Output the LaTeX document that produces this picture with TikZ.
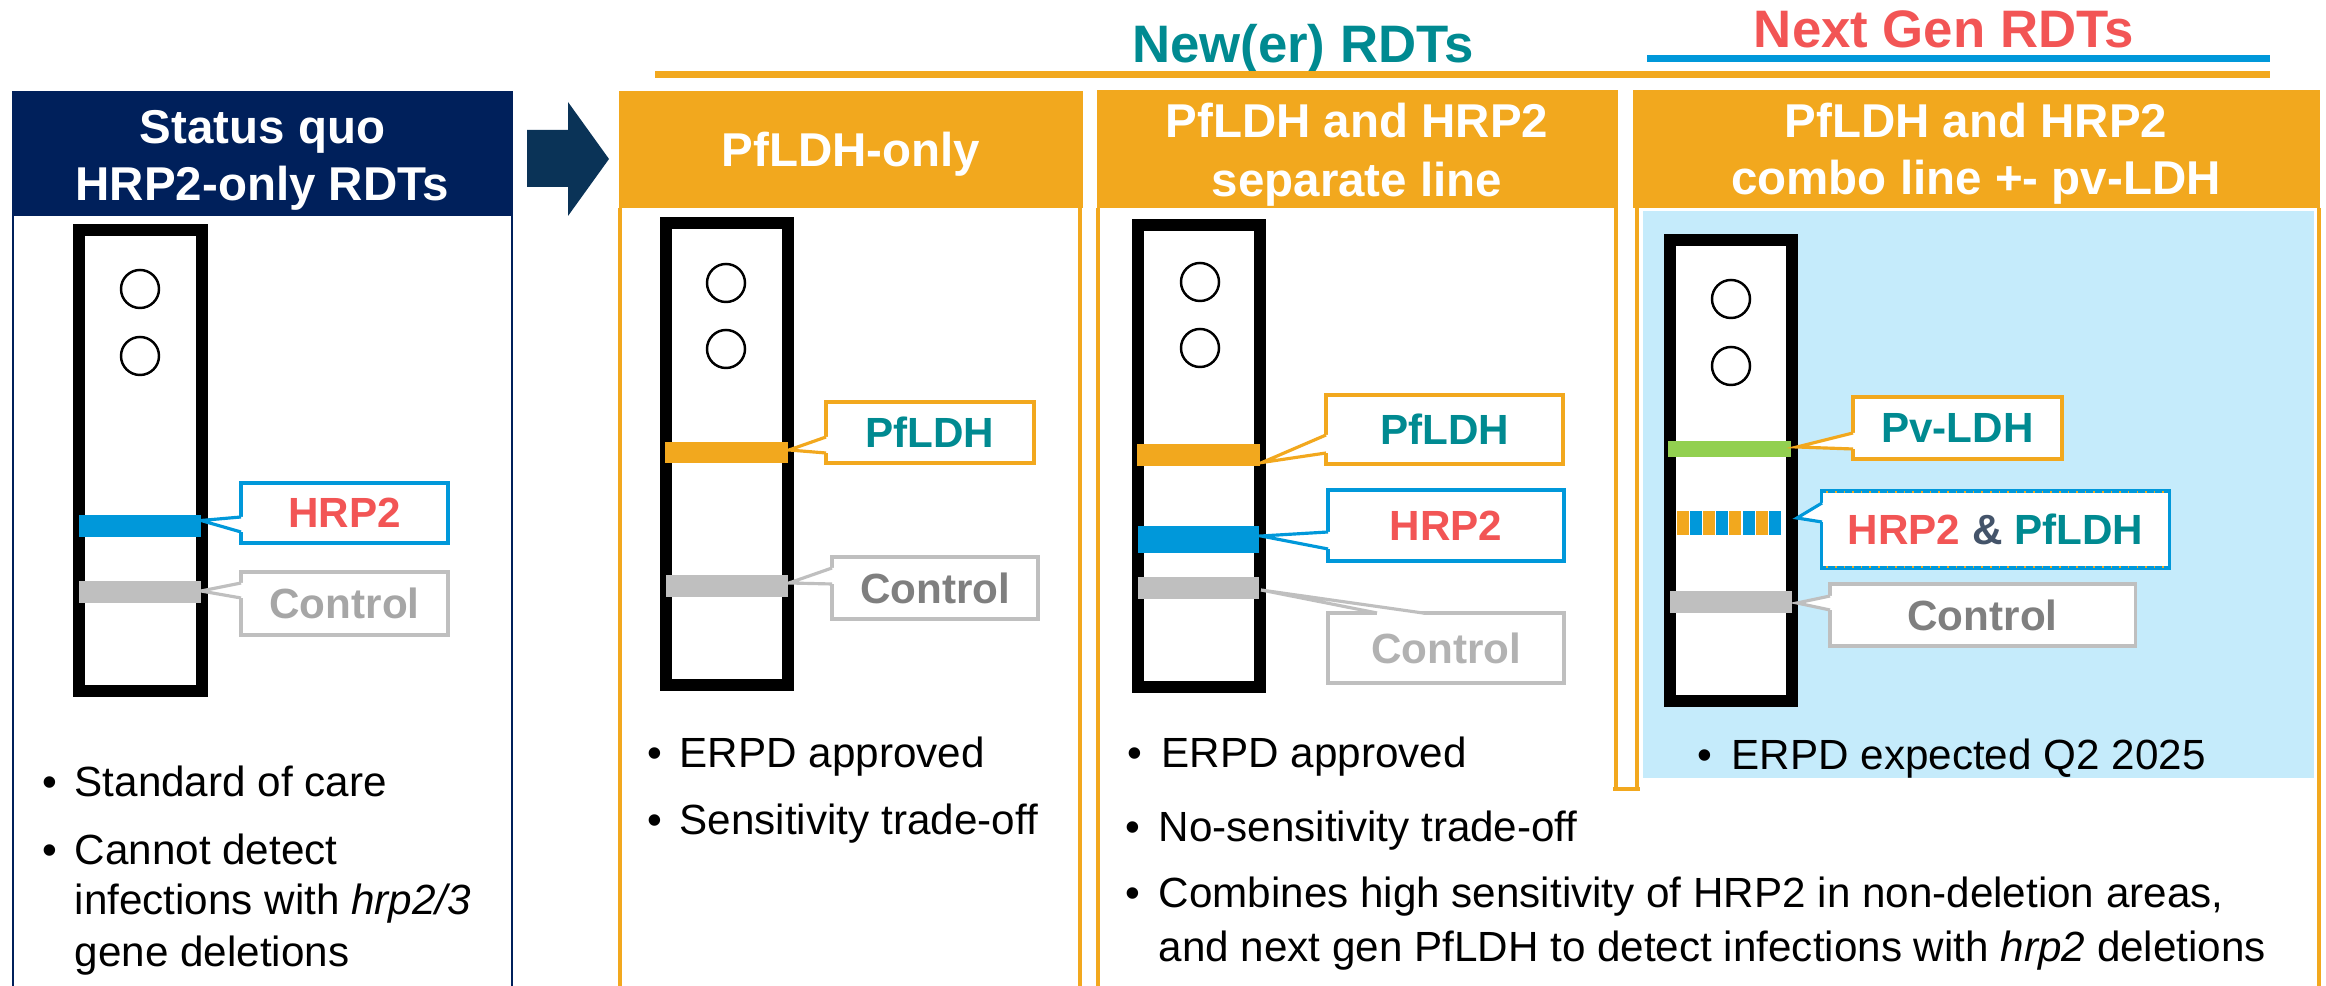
\documentclass[tikz,border=0pt]{standalone}
\usepackage{fontspec}
\setmainfont{Liberation Sans}
\usetikzlibrary{calc}
\definecolor{navyc}{RGB}{0,32,91}
\definecolor{arrowc}{RGB}{10,51,87}
\definecolor{orng}{RGB}{242,168,30}
\definecolor{tealc}{RGB}{0,138,145}
\definecolor{redc}{RGB}{242,85,85}
\definecolor{bluec}{RGB}{0,152,218}
\definecolor{grayb}{RGB}{191,191,191}
\definecolor{panelc}{RGB}{197,235,251}
\definecolor{ampc}{RGB}{68,84,106}
\definecolor{greenc}{RGB}{146,208,80}
\definecolor{grayA}{RGB}{166,166,166}
\definecolor{grayB}{RGB}{127,127,127}
\definecolor{grayC}{RGB}{178,178,178}
\newcommand{\wedgeto}[5]{% #1 colour, #2 p1, #3 tip, #4 p2, #5 inward shift
  \fill[white] ($(#2)+(#5)$) -- (#2) -- (#3) -- (#4) -- ($(#4)+(#5)$) -- cycle;
  \draw[#1, line width=0.9pt, line join=miter] (#2) -- (#3) -- (#4);
}
\begin{document}
\begin{tikzpicture}[x=0.01cm,y=-0.01cm,
  titletxt/.style={anchor=base, inner sep=0pt, font=\fontsize{15}{18}\selectfont\bfseries},
  headtxt/.style={anchor=base, inner sep=0pt, text=white, font=\fontsize{13.5}{16}\selectfont\bfseries},
  stripbox/.style={draw=black, line width=0.12cm, fill=white},
  hole/.style={draw=black, line width=0.7pt},
  callbox/.style={fill=white, line width=0.9pt, inner sep=0pt, font=\fontsize{12}{14}\selectfont\bfseries},
  bodytxt/.style={anchor=base west, inner sep=0pt, font=\fontsize{12}{14}\selectfont},
  frameline/.style={orng, line width=1pt},
]
\useasboundingbox (0,0) rectangle (2326,986);

% ---------- titles ----------
\node[titletxt, text=tealc] (newer) at (1303,63) {New(er) RDTs};
\node[titletxt, text=redc] (nextgen) at (1944,48) {Next Gen RDTs};
\draw[orng, line width=0.07cm] (655,74.5) -- (2270,74.5);
\draw[bluec, line width=0.07cm] (1647,59) -- (2270,59);

% ---------- column frames ----------
\fill[navyc] (12,91) rectangle (513,216);
\draw[navyc, line width=0.7pt] (13,216) -- (13,986) (512,216) -- (512,986);
\fill[orng] (619,91) rectangle (1083,208);
\draw[frameline] (620,208) -- (620,986) (1080,208) -- (1080,986);
\fill[orng] (1097,90) rectangle (1618,208);
\fill[orng] (1633,90) rectangle (2320,208);
\draw[frameline] (1098,208) -- (1098,986);
\draw[frameline] (1616,208) -- (1616,789) (1637,208) -- (1637,789) (1613,789) -- (1640,789);
\draw[frameline] (2319,208) -- (2319,986);
\fill[panelc] (1643,211) rectangle (2314,778);

% ---------- arrow ----------
\fill[arrowc] (527,130) -- (568,130) -- (568,102) -- (609,159) -- (568,216) -- (568,187) -- (527,187) -- cycle;

% ---------- headers ----------
\node[headtxt] (h1a) at (262.5,144) {Status quo};
\node[headtxt] (h1b) at (262.5,201) {HRP2-only RDTs};
\node[headtxt] (h2a) at (851,167) {PfLDH-only};
\node[headtxt] (h3a) at (1357,138) {PfLDH and HRP2};
\node[headtxt] (h3b) at (1357,197) {separate line};
\node[headtxt] (h4a) at (1976,138) {PfLDH and HRP2};
\node[headtxt] (h4b) at (1976,195) {combo line +- pv-LDH};

% ---------- strips ----------
\draw[stripbox] (79,230) rectangle (202,691);
\draw[stripbox] (666,223) rectangle (788,685);
\draw[stripbox] (1138,225) rectangle (1260,687);
\draw[stripbox] (1670,240) rectangle (1792,701);
\foreach \cx/\cy in {140/289,140/356,726/283,726/349,1200/282,1200/348,1731/299,1731/366}
  \draw[hole] (\cx,\cy) circle (0.19cm);

% ---------- bands ----------
\fill[bluec] (79,515) rectangle (201,537);
\fill[grayb] (79,581) rectangle (201,603);
\fill[orng] (665,442) rectangle (788,463);
\fill[grayb] (666,575) rectangle (788,597);
\fill[orng] (1137,444) rectangle (1260,466);
\fill[bluec] (1138,526) rectangle (1259,553);
\fill[grayb] (1138,577) rectangle (1259,599);
\fill[greenc] (1668,441) rectangle (1791,457);
\foreach \k in {0,...,7}{
  \pgfmathsetmacro{\sx}{1677+13.1*\k}
  \ifodd\k \def\sc{bluec}\else\def\sc{orng}\fi
  \fill[\sc] (\sx,511) rectangle ++(12,24);
}
\fill[grayb] (1670,591) rectangle (1792,613);

% ---------- callouts ----------
% column 1
\node[callbox, draw=bluec, minimum width=2.07cm, minimum height=0.60cm] (c1h) at (344.5,513) {\textcolor{redc}{HRP2}};
\coordinate (c1h1) at (241,517); \coordinate (c1ht) at (201,520.5); \coordinate (c1h2) at (241,532);
\wedgeto{bluec}{c1h1}{c1ht}{c1h2}{3,0}
\node[callbox, draw=grayb, minimum width=2.07cm, minimum height=0.63cm] (c1c) at (344.5,603.5) {\textcolor{grayA}{Control}};
\coordinate (c1c1) at (241,583); \coordinate (c1ct) at (201,591); \coordinate (c1c2) at (241,598);
\wedgeto{grayb}{c1c1}{c1ct}{c1c2}{3,0}
% column 2
\node[callbox, draw=orng, minimum width=2.08cm, minimum height=0.61cm] (c2p) at (930,432.5) {\textcolor{tealc}{PfLDH}};
\coordinate (c2p1) at (826,437); \coordinate (c2pt) at (789,450); \coordinate (c2p2) at (826,453);
\wedgeto{orng}{c2p1}{c2pt}{c2p2}{3,0}
\node[callbox, draw=grayb, minimum width=2.06cm, minimum height=0.62cm] (c2c) at (935,588) {\textcolor{grayB}{Control}};
\coordinate (c2c1) at (832,568); \coordinate (c2ct) at (789,583); \coordinate (c2c2) at (832,584);
\wedgeto{grayb}{c2c1}{c2ct}{c2c2}{3,0}
% column 3
\node[callbox, draw=orng, minimum width=2.37cm, minimum height=0.69cm] (c3p) at (1444.5,429.5) {\textcolor{tealc}{PfLDH}};
\coordinate (c3p1) at (1326,435); \coordinate (c3pt) at (1262,462.5); \coordinate (c3p2) at (1326,453);
\wedgeto{orng}{c3p1}{c3pt}{c3p2}{3,0}
\node[callbox, draw=bluec, minimum width=2.36cm, minimum height=0.71cm] (c3h) at (1446,525.5) {\textcolor{redc}{HRP2}};
\coordinate (c3h1) at (1328,532); \coordinate (c3ht) at (1261,536); \coordinate (c3h2) at (1328,549);
\wedgeto{bluec}{c3h1}{c3ht}{c3h2}{3,0}
\node[callbox, draw=grayb, minimum width=2.36cm, minimum height=0.70cm] (c3c) at (1446,648) {\textcolor{grayC}{Control}};
\coordinate (c3c1) at (1423,613); \coordinate (c3ct) at (1261,590); \coordinate (c3c2) at (1377,613);
\wedgeto{grayb}{c3c1}{c3ct}{c3c2}{0,3}
% column 4
\node[callbox, draw=orng, minimum width=2.09cm, minimum height=0.62cm] (c4v) at (1957.5,428) {\textcolor{tealc}{Pv-LDH}};
\coordinate (c4v1) at (1853,433); \coordinate (c4vt) at (1797,447); \coordinate (c4v2) at (1853,449);
\wedgeto{orng}{c4v1}{c4vt}{c4v2}{3,0}
\node[callbox, draw=bluec, minimum width=3.47cm, minimum height=0.77cm] (c4h) at (1995.5,529.5) {\textcolor{redc}{HRP2} \textcolor{ampc}{\&} \textcolor{tealc}{PfLDH}};
\draw[orng, dotted, line width=0.45pt] ($(c4h.north west)+(6,2.5)$) -- ($(c4h.north east)+(-4,2.5)$);
\draw[orng, dotted, line width=0.45pt] ($(c4h.south west)+(6,-2.5)$) -- ($(c4h.south east)+(-4,-2.5)$);
\coordinate (c4h1) at (1822,503); \coordinate (c4ht) at (1797,518); \coordinate (c4h2) at (1822,522);
\wedgeto{bluec}{c4h1}{c4ht}{c4h2}{3,0}
\node[callbox, draw=grayb, minimum width=3.05cm, minimum height=0.62cm] (c4c) at (1982.5,615) {\textcolor{grayB}{Control}};
\coordinate (c4c1) at (1830,596); \coordinate (c4ct) at (1797,603); \coordinate (c4c2) at (1830,610);
\wedgeto{grayb}{c4c1}{c4ct}{c4c2}{3,0}

% ---------- bullet texts ----------
% column 1
\node[bodytxt] (b1a) at (42,797) {\textbullet};
\node[bodytxt] (t1a) at (74,797) {Standard of care};
\node[bodytxt] (b1b) at (42,865) {\textbullet};
\node[bodytxt] (t1b) at (74,865) {Cannot detect};
\node[bodytxt] (t1c) at (74,915) {infections with \textit{hrp2/3}};
\node[bodytxt] (t1d) at (74,967) {gene deletions};
% column 2
\node[bodytxt] (b2a) at (647,768) {\textbullet};
\node[bodytxt] (t2a) at (679,768) {ERPD approved};
\node[bodytxt] (b2b) at (647,835) {\textbullet};
\node[bodytxt] (t2b) at (679,835) {Sensitivity trade-off};
% column 3
\node[bodytxt] (b3a) at (1127,768) {\textbullet};
\node[bodytxt] (t3a) at (1161,768) {ERPD approved};
% column 4
\node[bodytxt] (b4a) at (1697,770) {\textbullet};
\node[bodytxt] (t4a) at (1731,770) {ERPD expected Q2 2025};
% shared lower area
\node[bodytxt] (b5a) at (1125,842) {\textbullet};
\node[bodytxt] (t5a) at (1158,842) {No-sensitivity trade-off};
\node[bodytxt] (b5b) at (1125,908) {\textbullet};
\node[bodytxt] (t5b) at (1158,908) {Combines high sensitivity of HRP2 in non-deletion areas,};
\node[bodytxt] (t5c) at (1158,962) {and next gen PfLDH to detect infections with \textit{hrp2} deletions};
\end{tikzpicture}
\end{document}
